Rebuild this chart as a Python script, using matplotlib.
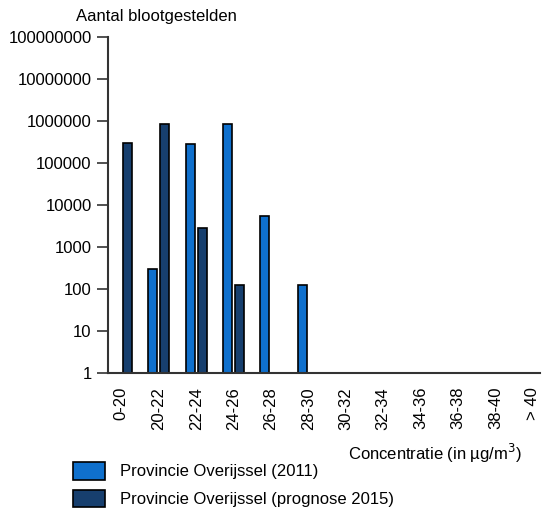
import matplotlib
matplotlib.use("Agg")
import matplotlib.pyplot as plt
import numpy as np

plt.rcParams['font.family'] = ['Liberation Sans', 'DejaVu Sans']

categories = ["0-20", "20-22", "22-24", "24-26", "26-28", "28-30",
              "30-32", "32-34", "34-36", "36-38", "38-40", "> 40"]
# value 1 means "none" (drawn as flat dash on the baseline)
overijssel_2011 = [1, 300, 280000, 850000, 5500, 126, 1, 1, 1, 1, 1, 1]
overijssel_2015 = [300000, 850000, 2900, 126, 1, 1, 1, 1, 1, 1, 1, 1]
ytick_values = [1, 10, 100, 1000, 10000, 100000, 1000000, 10000000, 100000000]
ytick_labels = [str(v) for v in ytick_values]

light = "#0F70CD"
dark = "#173F6E"
fs = 12

fig = plt.figure(figsize=(5.44, 5.17), dpi=100)
ax = fig.add_axes([0.199, 0.2785, 0.794, 0.6495])

x = np.arange(len(categories))
w = 0.24
off = 0.16
b1 = ax.bar(x - off, np.array(overijssel_2011) - 1, w, bottom=1, color=light,
            edgecolor="black", linewidth=1.2, label="Provincie Overijssel (2011)")
b2 = ax.bar(x + off, np.array(overijssel_2015) - 1, w, bottom=1, color=dark,
            edgecolor="black", linewidth=1.2, label="Provincie Overijssel (prognose 2015)")

ax.set_yscale("log")
ax.set_ylim(1, 100000000)
ax.set_xlim(-0.35, 11.2)
ax.set_yticks(ytick_values)
ax.set_yticklabels(ytick_labels)
ax.yaxis.set_minor_locator(matplotlib.ticker.NullLocator())
ax.set_xticks(x)
ax.set_xticklabels(categories, rotation=90)
ax.tick_params(axis='x', length=0, pad=10, labelsize=fs)
ax.tick_params(axis='y', length=8, width=1.2, color="#333333", labelsize=fs, pad=4)

for s in ["top", "right"]:
    ax.spines[s].set_visible(False)
for s in ["left", "bottom"]:
    ax.spines[s].set_color("#333333")
    ax.spines[s].set_linewidth(1.5)

fig.text(156 / 544, 1 - 17 / 517, "Aantal blootgestelden", ha="center", va="center", fontsize=fs)
fig.text(435 / 544, 1 - 453 / 517, "Concentratie (in µg/m$^3$)", ha="center", va="center", fontsize=fs)

fig.legend(handles=[b1, b2], loc="upper left", bbox_to_anchor=(73 / 544, 1 - 462 / 517),
           frameon=False, fontsize=fs, handlelength=1.9, handleheight=1.25,
           labelspacing=0.6, handletextpad=0.9, borderaxespad=0, borderpad=0)

fig.savefig("out.png", dpi=100)
